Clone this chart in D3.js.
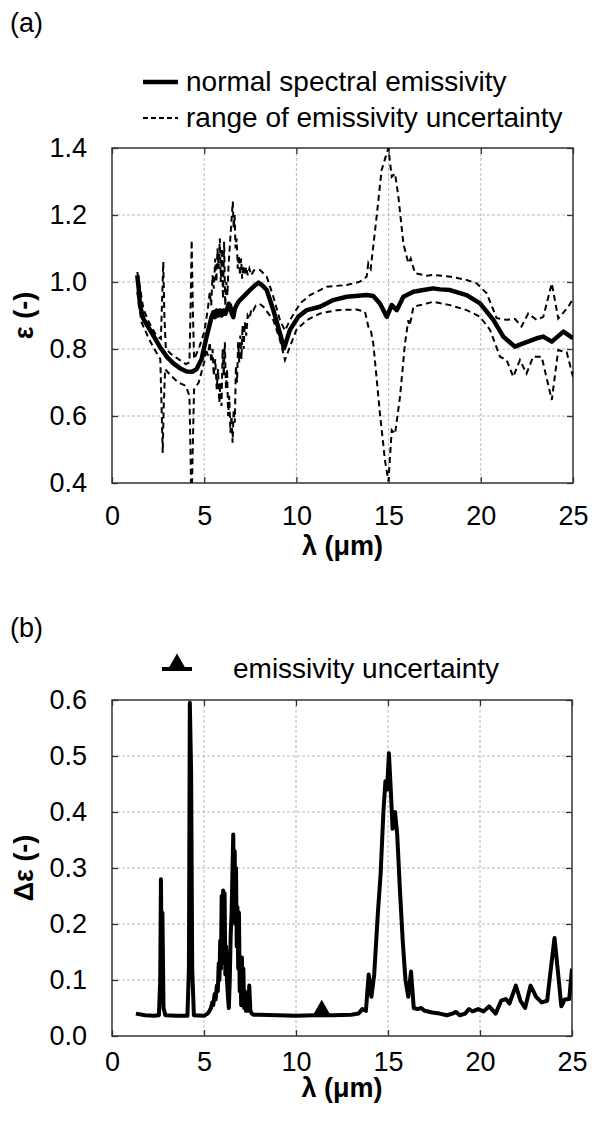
<!DOCTYPE html>
<html>
<head>
<meta charset="utf-8">
<script src="https://cdn.jsdelivr.net/npm/d3@7/dist/d3.min.js"></script>
<style>
  body { margin: 0; background: #fff; }
  svg text { font-family: "Liberation Sans", Arial, sans-serif; fill: #000; }
</style>
</head>
<body>
<svg class="chart" width="592" height="1122"></svg>
<script>
// ---- data: [wavelength (um), value] ----
let xTicks = [0, 5, 10, 15, 20, 25];
let epsTicks = [0.4, 0.6, 0.8, 1.0, 1.2, 1.4];
let deltaTicks = [0.0, 0.1, 0.2, 0.3, 0.4, 0.5, 0.6];

let emissivity = [
  [1.37,1.02],[1.45,0.98],[1.52,0.93],[1.7,0.89],[2.06,0.857],[2.6,0.806],[3.0,0.775],[3.33,0.757],
  [3.7,0.742],[4.05,0.733],[4.35,0.732],[4.59,0.74],[4.86,0.77],[5.13,0.837],[5.4,0.896],[5.5,0.91],
  [5.58,0.895],[5.67,0.915],[5.75,0.9],[5.85,0.915],[5.95,0.9],[6.04,0.915],[6.15,0.905],[6.25,0.92],
  [6.33,0.935],[6.4,0.93],[6.5,0.905],[6.58,0.895],[6.66,0.92],[6.75,0.93],[6.85,0.94],[6.94,0.946],
  [7.2,0.96],[7.48,0.976],[7.75,0.99],[7.94,0.998],[8.15,0.99],[8.39,0.976],[8.75,0.916],[9.11,0.847],
  [9.33,0.802],[9.65,0.857],[10.1,0.896],[10.56,0.916],[11.28,0.926],[12.0,0.946],[12.73,0.956],
  [13.81,0.961],[14.17,0.958],[14.53,0.936],[14.9,0.896],[15.17,0.931],[15.44,0.916],[15.8,0.956],
  [16.34,0.971],[16.88,0.976],[17.42,0.981],[17.79,0.978],[18.33,0.976],[19.23,0.961],[19.96,0.936],
  [20.68,0.887],[21.22,0.837],[21.85,0.807],[22.3,0.817],[23.03,0.832],[23.39,0.837],[23.85,0.822],
  [24.48,0.852],[25.0,0.832]
];

let upperBound = [
  [1.37,1.03],[1.5,0.99],[1.7,0.92],[2.0,0.88],[2.4,0.84],[2.65,0.83],[2.72,0.95],[2.78,1.06],[2.84,0.9],
  [2.92,0.8],[3.2,0.785],[3.6,0.77],[4.0,0.755],[4.2,0.76],[4.27,0.95],[4.32,1.125],[4.38,0.93],[4.45,0.77],
  [4.7,0.8],[5.0,0.85],[5.2,0.92],[5.3,0.97],[5.38,0.93],[5.45,1.02],[5.52,0.98],[5.6,1.07],[5.66,1.0],
  [5.72,1.1],[5.78,1.04],[5.85,1.13],[5.9,1.0],[5.96,1.1],[6.02,0.95],[6.08,1.12],[6.14,0.93],[6.2,1.0],
  [6.26,0.96],[6.32,1.05],[6.38,1.1],[6.44,1.15],[6.5,1.2],[6.55,1.24],[6.6,1.16],[6.65,1.2],[6.7,1.1],
  [6.76,1.13],[6.82,1.04],[6.88,1.08],[6.94,1.02],[7.0,1.07],[7.06,1.01],[7.12,1.05],[7.2,1.02],
  [7.28,1.045],[7.36,1.02],[7.45,1.04],[7.55,1.02],[7.7,1.035],[7.9,1.035],
  [8.03,1.036],[8.39,1.016],[8.75,0.956],[9.11,0.886],[9.38,0.855],[9.65,0.886],[10.2,0.936],[10.74,0.961],
  [11.64,0.986],[12.73,0.991],[13.45,1.001],[13.81,1.016],[13.9,1.056],[14.03,1.04],[14.35,1.195],
  [14.62,1.334],[14.9,1.384],[14.99,1.399],[15.17,1.314],[15.35,1.324],[15.53,1.255],[15.8,1.115],
  [16.07,1.056],[16.2,1.07],[16.43,1.026],[17.07,1.019],[17.42,1.021],[18.33,1.016],[19.23,1.006],
  [19.78,0.996],[20.32,0.966],[20.86,0.892],[21.4,0.887],[21.85,0.89],[22.21,0.867],[22.57,0.906],
  [23.03,0.887],[23.39,0.896],[23.85,0.996],[24.2,0.891],[24.75,0.926],[25.0,0.951]
];

let lowerBound = [
  [1.37,0.97],[1.5,0.92],[1.6,0.88],[2.0,0.83],[2.4,0.79],[2.62,0.77],[2.7,0.6],[2.75,0.49],[2.8,0.62],
  [2.88,0.74],[3.2,0.72],[3.6,0.70],[4.0,0.69],[4.2,0.66],[4.27,0.45],[4.3,0.3],[4.36,0.45],[4.45,0.68],
  [4.7,0.70],[5.0,0.76],[5.1,0.8],[5.2,0.78],[5.3,0.82],[5.38,0.76],[5.45,0.8],[5.52,0.72],[5.6,0.77],
  [5.68,0.68],[5.75,0.74],[5.82,0.64],[5.88,0.7],[5.94,0.63],[6.0,0.8],[6.06,0.72],[6.12,0.82],[6.18,0.68],
  [6.24,0.74],[6.3,0.6],[6.36,0.66],[6.42,0.55],[6.48,0.6],[6.54,0.52],[6.6,0.62],[6.66,0.58],[6.72,0.75],
  [6.78,0.7],[6.84,0.82],[6.9,0.76],[6.96,0.84],[7.02,0.77],[7.08,0.87],[7.14,0.8],[7.2,0.88],[7.28,0.84],
  [7.36,0.9],[7.46,0.89],[7.56,0.92],[7.66,0.915],[7.8,0.93],
  [8.0,0.935],[8.21,0.926],[8.75,0.886],[9.11,0.827],[9.38,0.767],[9.65,0.807],[10.0,0.857],[10.56,0.886],
  [11.28,0.906],[12.19,0.916],[13.27,0.918],[13.72,0.911],[13.9,0.867],[14.03,0.857],[14.17,0.817],
  [14.53,0.608],[14.8,0.469],[14.99,0.405],[15.17,0.558],[15.35,0.547],[15.62,0.658],[15.89,0.817],
  [16.07,0.886],[16.13,0.87],[16.25,0.896],[16.34,0.926],[17.07,0.936],[17.42,0.941],[18.33,0.931],
  [19.23,0.916],[19.96,0.896],[20.5,0.857],[21.04,0.777],[21.4,0.767],[21.76,0.717],[22.12,0.767],
  [22.48,0.727],[22.84,0.777],[23.3,0.777],[23.85,0.648],[24.2,0.797],[24.66,0.79],[25.0,0.717]
];

let uncertainty = [
  [1.3,0.04],[1.8,0.037],[2.3,0.036],[2.55,0.037],[2.62,0.1],[2.66,0.28],[2.7,0.12],[2.74,0.22],[2.8,0.05],
  [2.9,0.037],[3.5,0.036],[4.1,0.036],[4.18,0.12],[4.23,0.595],[4.3,0.47],[4.36,0.12],[4.45,0.037],
  [5.0,0.036],[5.2,0.04],[5.3,0.045],[5.38,0.05],[5.45,0.06],[5.5,0.055],[5.58,0.075],[5.63,0.065],
  [5.7,0.09],[5.75,0.08],[5.8,0.13],[5.84,0.1],[5.88,0.17],[5.92,0.12],[5.96,0.25],[6.0,0.15],[6.04,0.26],
  [6.08,0.13],[6.12,0.255],[6.16,0.11],[6.2,0.16],[6.25,0.1],[6.3,0.07],[6.35,0.05],[6.4,0.1],[6.45,0.18],
  [6.5,0.22],[6.55,0.3],[6.59,0.36],[6.63,0.24],[6.67,0.33],[6.7,0.2],[6.74,0.3],[6.78,0.16],[6.82,0.23],
  [6.86,0.12],[6.9,0.22],[6.94,0.08],[6.98,0.14],[7.02,0.055],[7.06,0.14],[7.1,0.07],[7.14,0.12],
  [7.18,0.05],[7.22,0.08],[7.28,0.045],[7.34,0.07],[7.4,0.045],[7.46,0.09],[7.52,0.045],[7.6,0.04],
  [7.7,0.038],[8.0,0.038],
  [9.0,0.037],[10.0,0.036],[11.0,0.037],[12.0,0.037],[13.0,0.038],[13.4,0.04],[13.6,0.048],[13.8,0.045],
  [13.95,0.11],[14.1,0.07],[14.25,0.11],[14.45,0.22],[14.6,0.29],[14.75,0.4],[14.86,0.455],[14.95,0.44],
  [15.05,0.505],[15.15,0.44],[15.25,0.37],[15.38,0.4],[15.5,0.36],[15.65,0.26],[15.8,0.17],[15.95,0.1],
  [16.1,0.07],[16.25,0.115],[16.4,0.05],[16.6,0.048],[16.8,0.05],[17.0,0.045],[17.4,0.042],[17.8,0.04],
  [18.2,0.037],[18.5,0.04],[18.7,0.043],[18.9,0.037],[19.2,0.04],[19.4,0.048],[19.6,0.044],[19.9,0.048],
  [20.2,0.044],[20.5,0.053],[20.85,0.04],[21.15,0.063],[21.4,0.066],[21.6,0.058],[21.95,0.09],[22.2,0.063],
  [22.45,0.05],[22.75,0.09],[23.05,0.07],[23.35,0.06],[23.65,0.063],[23.85,0.12],[24.05,0.175],[24.25,0.11],
  [24.42,0.053],[24.6,0.065],[24.85,0.066],[25.0,0.12]
];
// the single marker drawn on the uncertainty curve
let markerPoint = [11.4, 0.037];

let svg = d3.select('.chart');
let fontSize = 27;

// ---- panel helper: frame, grid, inward ticks, labels ----
function panel(cfg) {
  let x = d3.scaleLinear().domain([0, 25]).range([cfg.left, cfg.right]);
  let y = d3.scaleLinear().domain(cfg.yDomain).range([cfg.bottom, cfg.top]);
  let g = svg.append('g');

  // dashed grid
  g.append('g').selectAll('line.vgrid')
    .data(xTicks.slice(1, -1))
    .enter().append('line')
    .attr('x1', d => x(d)).attr('x2', d => x(d))
    .attr('y1', cfg.top).attr('y2', cfg.bottom)
    .attr('stroke', '#b8b8b8').attr('stroke-width', 1).attr('stroke-dasharray', '3,2');
  g.append('g').selectAll('line.hgrid')
    .data(cfg.yTicks.slice(1, -1))
    .enter().append('line')
    .attr('x1', cfg.left).attr('x2', cfg.right)
    .attr('y1', d => y(d)).attr('y2', d => y(d))
    .attr('stroke', '#b8b8b8').attr('stroke-width', 1).attr('stroke-dasharray', '3,2');

  // axes with inward ticks on all four sides
  let fmt = d3.format('.1f');
  g.append('g').attr('transform', 'translate(0,' + cfg.bottom + ')')
    .call(d3.axisBottom(x).tickValues(xTicks).tickSizeInner(-6).tickSizeOuter(0).tickPadding(cfg.xPad));
  g.append('g').attr('transform', 'translate(' + cfg.left + ',0)')
    .call(d3.axisLeft(y).tickValues(cfg.yTicks).tickFormat(fmt).tickSizeInner(-6).tickSizeOuter(0).tickPadding(25));
  g.append('g').attr('transform', 'translate(0,' + cfg.top + ')')
    .call(d3.axisTop(x).tickValues(xTicks).tickSizeInner(-6).tickSizeOuter(0))
    .selectAll('text').remove();
  g.append('g').attr('transform', 'translate(' + cfg.right + ',0)')
    .call(d3.axisRight(y).tickValues(cfg.yTicks).tickSizeInner(-6).tickSizeOuter(0))
    .selectAll('text').remove();
  g.selectAll('.domain').remove();
  g.selectAll('.tick line').attr('stroke', '#333').attr('stroke-width', 1.3);
  g.selectAll('.tick text')
    .style('font-size', fontSize + 'px')
    .style('font-family', '"Liberation Sans", Arial, sans-serif')
    .attr('fill', '#000');

  // frame
  g.append('rect')
    .attr('x', cfg.left).attr('y', cfg.top)
    .attr('width', cfg.right - cfg.left).attr('height', cfg.bottom - cfg.top)
    .attr('fill', 'none').attr('stroke', '#333').attr('stroke-width', 1.5);

  // clip for data lines
  svg.append('clipPath').attr('id', cfg.id)
    .append('rect')
    .attr('x', cfg.left).attr('y', cfg.top)
    .attr('width', cfg.right - cfg.left).attr('height', cfg.bottom - cfg.top);

  // axis titles
  g.append('text')
    .attr('x', (cfg.left + cfg.right) / 2).attr('y', cfg.xTitleY)
    .attr('text-anchor', 'middle')
    .style('font-size', fontSize + 'px').style('font-weight', 'bold')
    .text('λ (μm)');
  g.append('text')
    .attr('transform', 'translate(33,' + (cfg.top + cfg.bottom) / 2 + ') rotate(-90)')
    .attr('text-anchor', 'middle')
    .style('font-size', fontSize + 'px').style('font-weight', 'bold')
    .text(cfg.yTitle);
  g.append('text')
    .attr('x', 10).attr('y', cfg.tagY)
    .style('font-size', fontSize + 'px')
    .text(cfg.tag);

  return { x: x, y: y, g: g };
}

/* PANEL (a) */
let a = panel({
  id: 'clipA', left: 112, right: 573, top: 148, bottom: 483,
  yDomain: [0.4, 1.4], yTicks: epsTicks, xPad: 23, xTitleY: 555,
  yTitle: 'ε (-)', tag: '(a)', tagY: 32
});
let lineA = d3.line().x(d => a.x(d[0])).y(d => a.y(d[1]));
let plotA = a.g.append('g').attr('clip-path', 'url(#clipA)');
[upperBound, lowerBound].forEach(function(series) {
  plotA.append('path').datum(series)
    .attr('d', lineA).attr('fill', 'none')
    .attr('stroke', '#000').attr('stroke-width', 2).attr('stroke-dasharray', '6,4');
});
plotA.append('path').datum(emissivity)
  .attr('d', lineA).attr('fill', 'none')
  .attr('stroke', '#000').attr('stroke-width', 4.5).attr('stroke-linejoin', 'round');

// legend (a)
let legA = svg.append('g');
legA.append('line').attr('x1', 143).attr('x2', 178).attr('y1', 82).attr('y2', 82)
  .attr('stroke', '#000').attr('stroke-width', 4.5);
legA.append('text').attr('x', 186).attr('y', 91).style('font-size', '28px')
  .text('normal spectral emissivity');
legA.append('line').attr('x1', 143).attr('x2', 178).attr('y1', 118).attr('y2', 118)
  .attr('stroke', '#000').attr('stroke-width', 2).attr('stroke-dasharray', '5,3');
legA.append('text').attr('x', 186).attr('y', 127).style('font-size', '28px')
  .text('range of emissivity uncertainty');

/* PANEL (b) */
let b = panel({
  id: 'clipB', left: 112, right: 572, top: 700, bottom: 1036,
  yDomain: [0, 0.6], yTicks: deltaTicks, xPad: 16, xTitleY: 1097,
  yTitle: 'Δε (-)', tag: '(b)', tagY: 637
});
let lineB = d3.line().x(d => b.x(d[0])).y(d => b.y(d[1]));
let plotB = b.g.append('g').attr('clip-path', 'url(#clipB)');
plotB.append('path').datum(uncertainty)
  .attr('d', lineB).attr('fill', 'none')
  .attr('stroke', '#000').attr('stroke-width', 4).attr('stroke-linejoin', 'round');

let tri = d3.symbol().type(d3.symbolTriangle).size(170);
plotB.append('path')
  .attr('d', tri)
  .attr('transform', 'translate(' + b.x(markerPoint[0]) + ',' + (b.y(markerPoint[1]) - 4) + ')')
  .attr('fill', '#000');

// legend (b)
let legB = svg.append('g');
legB.append('line').attr('x1', 162).attr('x2', 192).attr('y1', 669).attr('y2', 669)
  .attr('stroke', '#000').attr('stroke-width', 4);
legB.append('path').attr('d', tri).attr('transform', 'translate(177,665)').attr('fill', '#000');
legB.append('text').attr('x', 233).attr('y', 678).style('font-size', '28px')
  .text('emissivity uncertainty');
</script>
</body>
</html>
